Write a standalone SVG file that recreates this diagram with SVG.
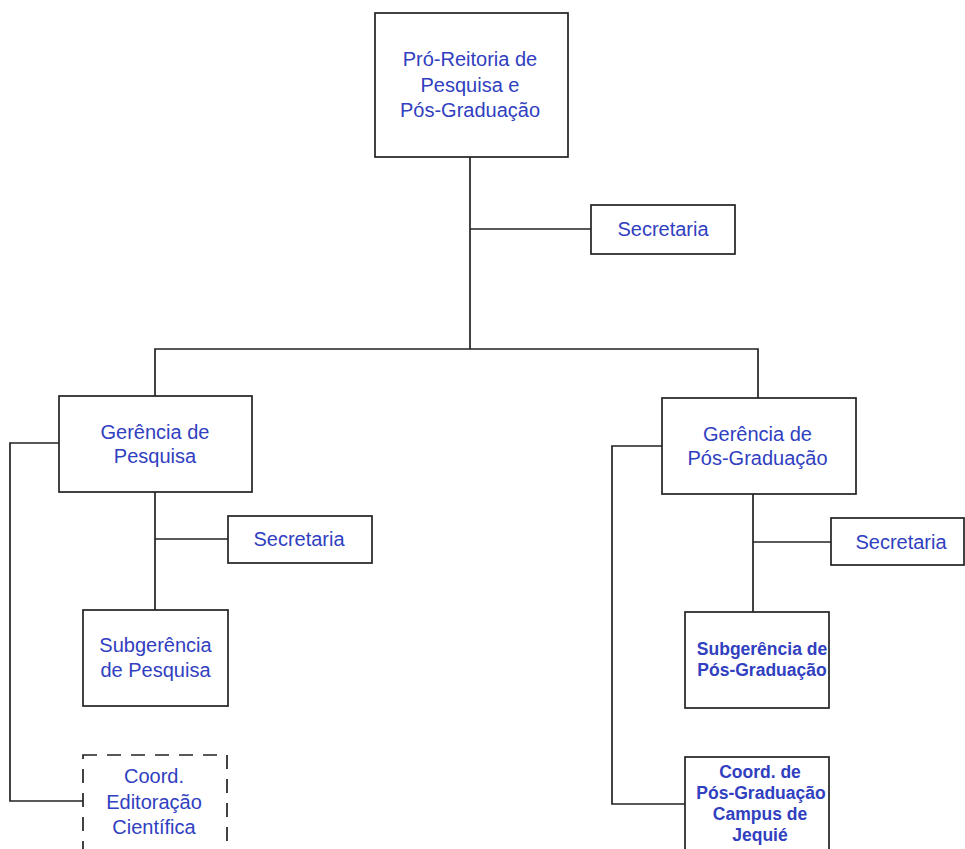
<svg xmlns="http://www.w3.org/2000/svg" width="965" height="849" viewBox="0 0 965 849">
<style>
.box{fill:#fff;stroke:#222;stroke-width:1.7}
.dash{fill:#fff;stroke:#222;stroke-width:1.7;stroke-dasharray:14 10}
.ln{fill:none;stroke:#222;stroke-width:1.7}
.t{font-family:"Liberation Sans",Arial,sans-serif;font-size:20px;fill:#3040c0;text-anchor:middle}
.b{font-family:"Liberation Sans",Arial,sans-serif;font-size:17.5px;font-weight:bold;fill:#3040c0;text-anchor:middle}
</style>
<rect width="965" height="849" fill="#fff"/>
<g id="connectors">
<polyline class="ln" points="470,157 470,349"/>
<polyline class="ln" points="470,229 591,229"/>
<polyline class="ln" points="155,396 155,349 758,349 758,398"/>
<polyline class="ln" points="59,443 10,443 10,801 83,801"/>
<polyline class="ln" points="155,492 155,610"/>
<polyline class="ln" points="155,539 228,539"/>
<polyline class="ln" points="662,446 612,446 612,804 685,804"/>
<polyline class="ln" points="753,494 753,612"/>
<polyline class="ln" points="753,542 831,542"/>
</g>
<g id="n-proreitoria">
<rect class="box" x="375" y="13" width="193" height="144"/>
<text class="t" x="470" y="65.5">Pró-Reitoria de</text>
<text class="t" x="470" y="91.5">Pesquisa e</text>
<text class="t" x="470" y="117">Pós-Graduação</text>
</g>
<g id="n-secretaria-top">
<rect class="box" x="591" y="205" width="144" height="49"/>
<text class="t" x="663" y="236">Secretaria</text>
</g>
<g id="n-gerencia-pesquisa">
<rect class="box" x="59" y="396" width="193" height="96"/>
<text class="t" x="155" y="438.5">Gerência de</text>
<text class="t" x="155" y="463">Pesquisa</text>
</g>
<g id="n-secretaria-left">
<rect class="box" x="228" y="516" width="144" height="47"/>
<text class="t" x="299" y="546">Secretaria</text>
</g>
<g id="n-subgerencia-pesquisa">
<rect class="box" x="83" y="610" width="145" height="96"/>
<text class="t" x="155.5" y="652">Subgerência</text>
<text class="t" x="155.5" y="677">de Pesquisa</text>
</g>
<g id="n-coord-editoracao">
<rect class="dash" x="83" y="755" width="144" height="110"/>
<text class="t" x="154" y="783">Coord.</text>
<text class="t" x="154" y="808.5">Editoração</text>
<text class="t" x="154" y="833.5">Científica</text>
</g>
<g id="n-gerencia-pos">
<rect class="box" x="662" y="398" width="194" height="96"/>
<text class="t" x="757.5" y="441">Gerência de</text>
<text class="t" x="757.5" y="465">Pós-Graduação</text>
</g>
<g id="n-secretaria-right">
<rect class="box" x="831" y="518" width="133" height="47"/>
<text class="t" x="901" y="548.5">Secretaria</text>
</g>
<g id="n-subgerencia-pos">
<rect class="box" x="685" y="612" width="144" height="96"/>
<text class="b" x="762" y="655">Subgerência de</text>
<text class="b" x="762" y="676">Pós-Graduação</text>
</g>
<g id="n-coord-jequie">
<rect class="box" x="685" y="757" width="144" height="110"/>
<text class="b" x="760" y="777.5">Coord. de</text>
<text class="b" x="761" y="799">Pós-Graduação</text>
<text class="b" x="760" y="820">Campus de</text>
<text class="b" x="760" y="841">Jequié</text>
</g>
</svg>
